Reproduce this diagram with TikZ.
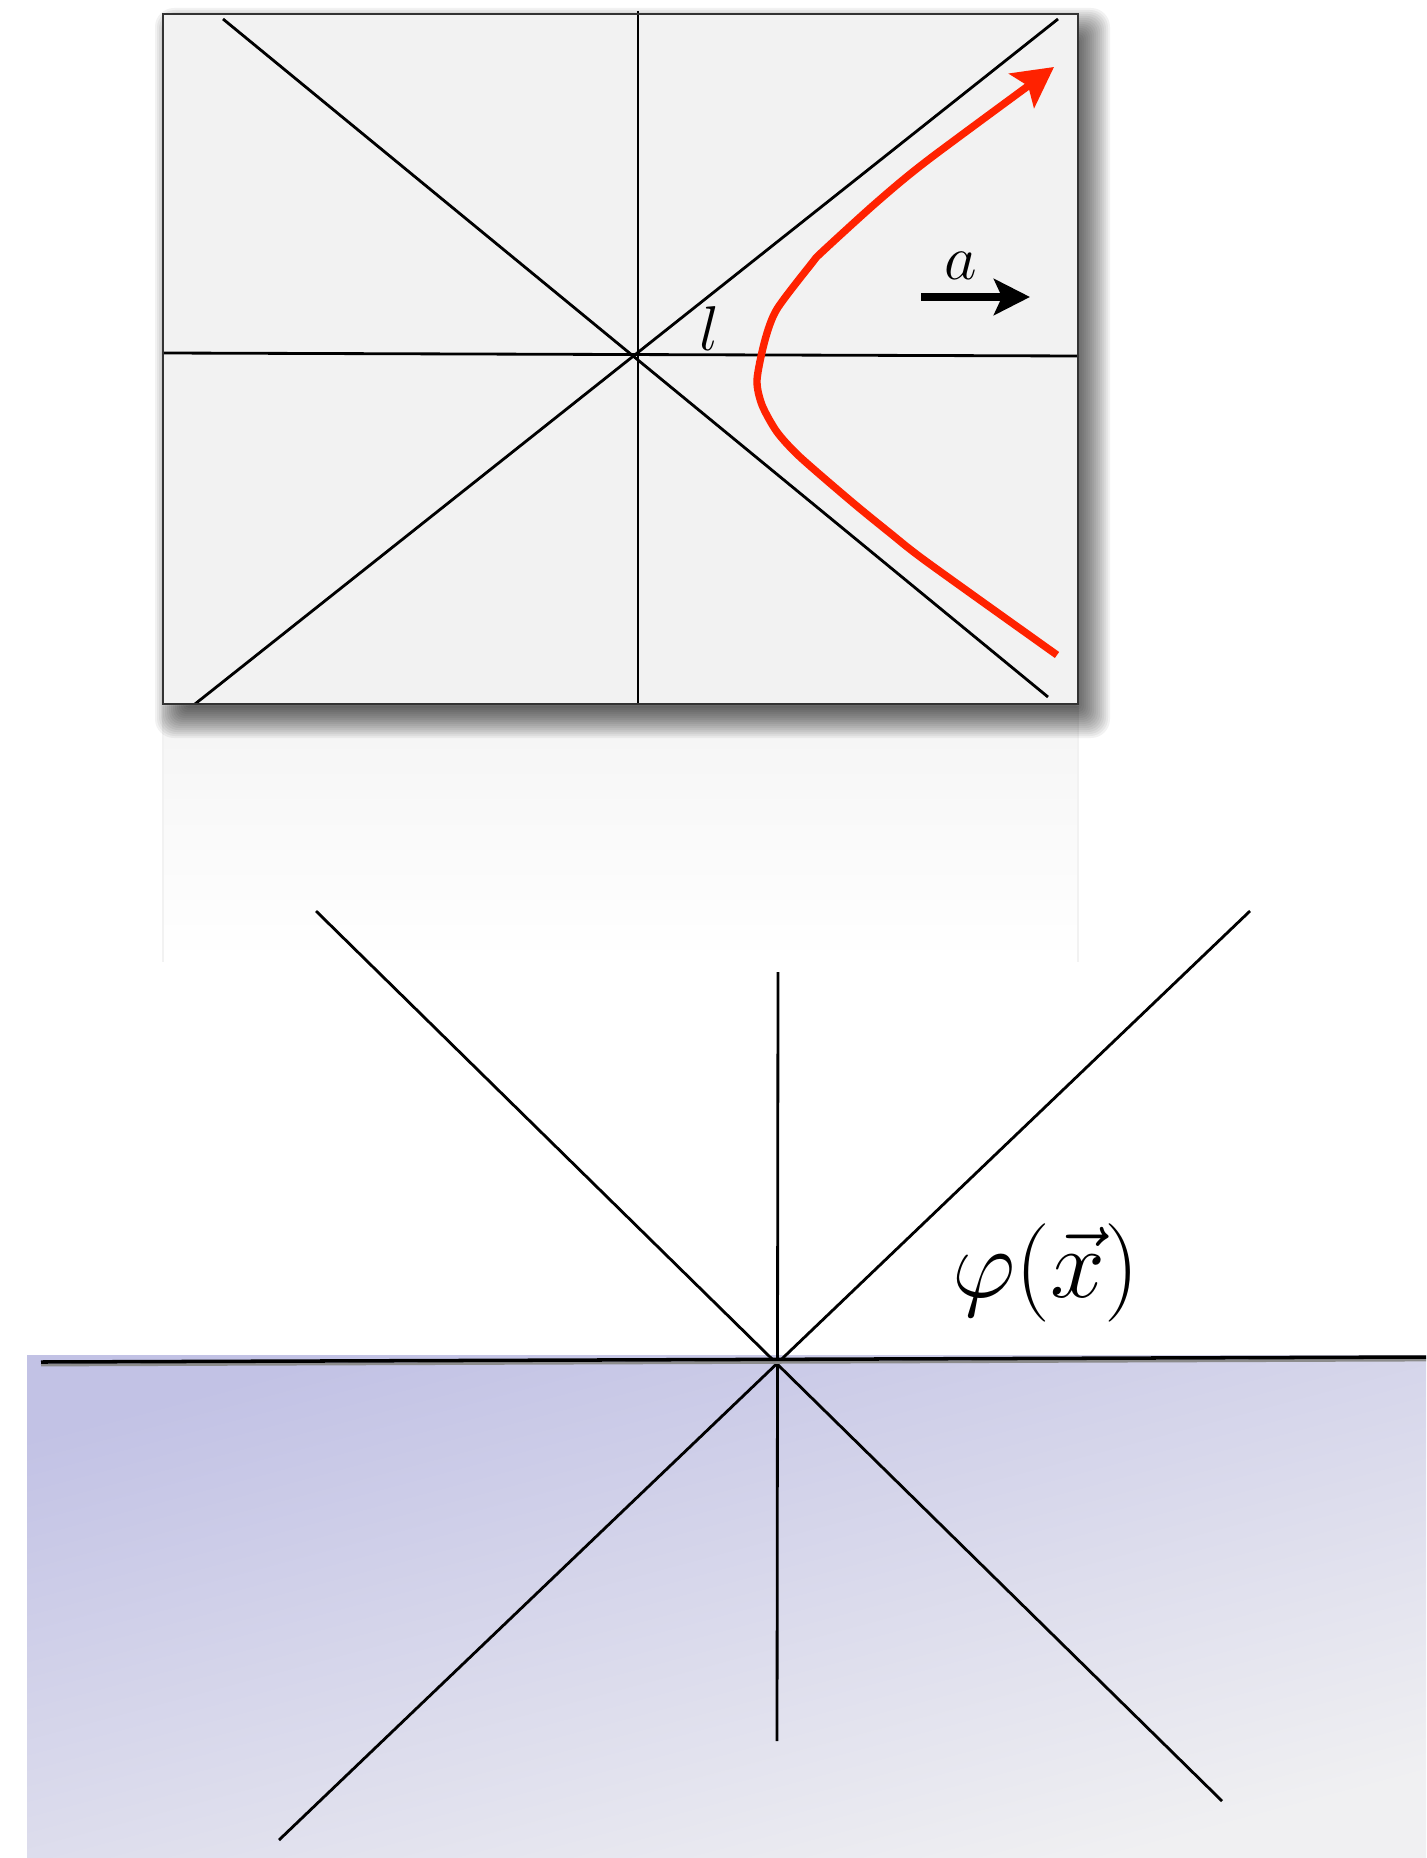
\RequirePackage{fix-cm}
\documentclass[tikz,border=0pt]{standalone}
\usepackage{amsmath,amssymb}
\usepackage{tikz}
\usetikzlibrary{arrows.meta,calc}

\definecolor{panelgray}{RGB}{242,242,242}
\definecolor{worldred}{RGB}{255,34,0}
\definecolor{skyA}{RGB}{194,194,229}
\definecolor{skyB}{RGB}{240,240,242}

\tikzset{
  coneline/.style={black, line width=0.8pt},
  worldline/.style={worldred, line width=2.1pt, -{Stealth[length=0.4cm, width=0.42cm, inset=0.08cm]}},
  accarrow/.style={black, line width=2.1pt, -{Stealth[length=0.36cm, width=0.36cm, inset=0.08cm]}},
  labelfont/.style={font=\fontsize{18}{18}\selectfont, inner sep=0pt},
}

\begin{document}
\begin{tikzpicture}[x=0.01cm, y=-0.01cm]
    \useasboundingbox (0,0) rectangle (1426,1858);

    % Rindler patch (top panel)
    \coordinate (pNW) at (163,14);
    \coordinate (pSE) at (1078,704);

    % faint reflection under the panel
    \shade[top color=black!4, bottom color=white] (163,706) rectangle (1078,962);
    \draw[black!5, line width=0.4pt] (163,706) -- (163,962) (1078,706) -- (1078,962);

    % blurred drop shadow
    \foreach \g in {-16,-14,...,20}{
        \pgfmathsetmacro{\rad}{0.005*(\g+18)}
        \fill[black, opacity=0.05, rounded corners=\rad cm]
            ($(pNW)+(12-\g,14-\g)$) rectangle ($(pSE)+(12+\g,14+\g)$);
    }
    \fill[panelgray] (pNW) rectangle (pSE);

    \coordinate (hL) at (163,353);
    \coordinate (hR) at (1078,356);
    \coordinate (vT) at (638,11);
    \coordinate (vB) at (638,704);
    \coordinate (dA1) at (223,19);
    \coordinate (dA2) at (1048,697);
    \coordinate (dB1) at (195,704);
    \coordinate (dB2) at (1058,19);
    \draw[coneline] (hL) -- (hR);
    \draw[coneline] (vT) -- (vB);
    \draw[coneline] (dA1) -- (dA2);
    \draw[coneline] (dB1) -- (dB2);
    \draw[black!80, line width=0.6pt] (pNW) rectangle (pSE);

    % accelerated observer
    \draw[worldline] plot[smooth, tension=0.45] coordinates {
        (1057,655) (927,562) (890,533) (852,502) (800,457) (777,432)
        (762,405) (757,380) (765,340) (777,309) (812,263) (822,252)
        (877,202) (928,160) (1054,67)};

    \node[labelfont, anchor=base] (ell) at (709,351) {$l$};

    \coordinate (aFrom) at (921,297);
    \coordinate (aTo) at (1030,297);
    \draw[accarrow] (aFrom) -- (aTo);
    \node[labelfont, anchor=base] (accl) at (961,280) {$a$};

    % light cone over the field (bottom)
    \shade[top color=skyA, bottom color=skyB, shading angle=15] (27,1355) rectangle (1426,1858);

    \coordinate (qA1) at (316,911);
    \coordinate (qA2) at (1222,1801);
    \coordinate (qB1) at (1250,911);
    \coordinate (qB2) at (279,1840);
    \coordinate (qT) at (778,972);
    \coordinate (qB) at (777,1741);
    \coordinate (qL) at (41,1362);
    \coordinate (qR) at (1426,1357);
    \draw[coneline] (qA1) -- (qA2);
    \draw[coneline] (qB1) -- (qB2);
    \draw[coneline] (qT) -- (qB);
    \draw[black!45, line width=0.8pt] ($(qL)+(0,3)$) -- ($(qR)+(0,3)$);
    \draw[black, line width=1pt] (qL) -- (qR);

    \node[font=\fontsize{28}{30}\selectfont, inner sep=0pt, anchor=base] (phi) at (1046,1297) {$\varphi(\vec{x})$};
\end{tikzpicture}
\end{document}
